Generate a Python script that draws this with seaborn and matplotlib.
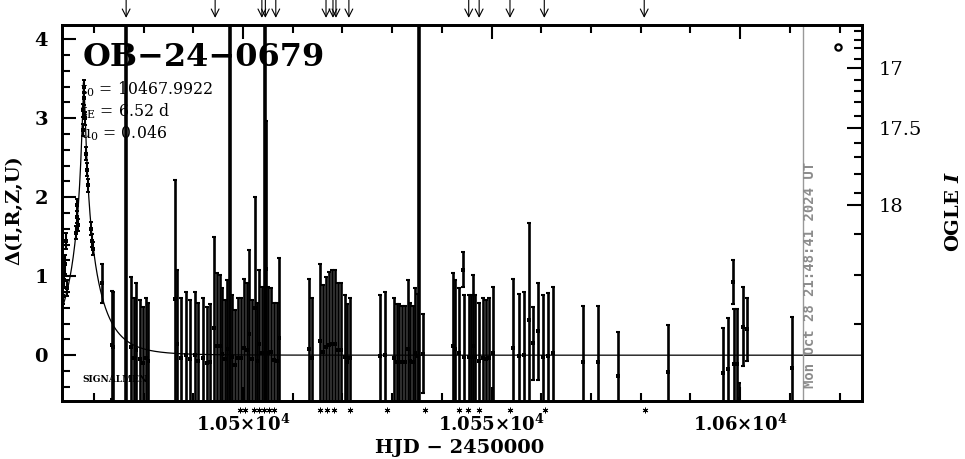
import numpy as np
import matplotlib
matplotlib.use("Agg")
import matplotlib.pyplot as plt
import seaborn as sns
from matplotlib.ticker import FixedLocator, MultipleLocator, NullFormatter, FixedFormatter

# ---------------- data ----------------
t0 = 10467.9922
tE = 6.52
u0 = 0.046

peak_hjd = [10463.9, 10464.1, 10464.3, 10464.5, 10464.7, 10466.4, 10466.6, 10466.7, 10466.9,
            10467.8, 10467.9, 10468.0, 10468.1, 10468.2, 10468.5, 10468.6, 10468.8,
            10469.5, 10469.6, 10469.8]
peak_delta = [0.75, 0.95, 1.15, 1.45, 0.85, 1.55, 1.75, 1.90, 1.65,
              2.85, 3.10, 3.40, 3.25, 3.00, 2.55, 2.35, 2.15,
              1.60, 1.45, 1.35]
peak_err = [0.10, 0.10, 0.12, 0.10, 0.10, 0.08, 0.08, 0.08, 0.08,
            0.08, 0.08, 0.08, 0.08, 0.08, 0.08, 0.08, 0.08,
            0.08, 0.08, 0.08]

bar_hjd = [10471.6, 10473.6, 10473.8, 10477.5, 10478.1, 10478.5, 10479.3, 10479.9, 10480.5, 10480.9,
           10486.3, 10486.7, 10487.5, 10488.5, 10489.3, 10490.3, 10490.9, 10492.0, 10492.8, 10493.4,
           10494.2, 10494.8, 10495.4, 10495.8, 10496.4, 10496.8, 10497.8, 10498.4, 10499.0, 10499.6,
           10500.2, 10500.8, 10501.2, 10501.8, 10502.4, 10502.8, 10503.2, 10503.8, 10504.6, 10505.0,
           10505.6, 10506.2, 10506.8, 10507.2,
           10513.3, 10513.9, 10515.5, 10516.1, 10516.7, 10517.3, 10517.9, 10518.5, 10519.1, 10519.7,
           10520.5, 10520.9, 10521.5,
           10527.6, 10528.6, 10530.4, 10531.0, 10531.4, 10532.0, 10532.6, 10533.2, 10533.6, 10534.2,
           10534.6, 10535.2, 10536.2,
           10542.3, 10542.7, 10543.5, 10544.3, 10544.5, 10545.5, 10545.9, 10546.3, 10546.7, 10547.5,
           10548.3, 10548.9, 10549.5, 10550.3,
           10554.3, 10555.5, 10556.5, 10557.5, 10558.4, 10559.4, 10560.4, 10561.4, 10562.4,
           10568.4, 10571.4, 10575.5, 10585.5,
           10596.6, 10597.6, 10598.6, 10598.8, 10599.4, 10599.8, 10600.6, 10601.4, 10610.5]
bar_delta = [0.91, 0.13, 0.10, 0.10, -0.04, 0.06, -0.05, -0.10, -0.04, -0.07,
             0.71, 0.14, -0.04, 0.00, -0.05, 0.00, -0.07, -0.04, -0.10, -0.08,
             0.35, 0.12, 0.11, 0.02, -0.05, 0.08, -0.02, -0.12, -0.04, -0.04,
             0.09, 0.06, 0.27, -0.05, 0.60, -0.07, 0.14, 0.03, 1.09, 0.03,
             0.04, -0.06, -0.07, 0.22,
             0.08, -0.04, 0.18, 0.04, 0.10, 0.13, 0.14, 0.14, 0.06, 0.06,
             -0.02, -0.08, -0.04,
             -0.01, 0.00, -0.04, -0.08, -0.08, -0.09, -0.09, 0.08, -0.07, -0.09,
             0.03, -0.01, 0.02,
             0.12, 0.08, 0.03, 1.08, -0.02, -0.02, -0.02, 0.11, -0.02, -0.07,
             -0.04, -0.05, -0.04, 0.03,
             0.09, -0.01, 0.00, 0.44, 0.15, 0.30, -0.02, -0.01, 0.03,
             -0.09, -0.09, -0.26, -0.21,
             -0.23, -0.17, 0.93, -0.11, -0.11, -0.55, 0.36, 0.33, -0.16]
bar_err = [0.25, 0.68, 0.70, 0.89, 0.76, 0.86, 0.75, 0.71, 0.77, 0.73,
           1.51, 0.94, 0.77, 0.80, 0.75, 0.80, 0.73, 0.77, 0.71, 0.73,
           1.14, 0.92, 0.90, 0.83, 0.75, 0.87, 0.78, 0.69, 0.76, 0.76,
           0.88, 0.86, 1.06, 0.75, 1.40, 0.73, 0.94, 0.83, 1.88, 0.83,
           0.81, 0.72, 0.73, 1.01,
           0.88, 0.76, 0.98, 0.85, 0.89, 0.92, 0.94, 0.94, 0.86, 0.86,
           0.78, 0.73, 0.76,
           0.77, 0.80, 0.76, 0.73, 0.73, 0.71, 0.71, 0.87, 0.73, 0.71,
           0.82, 0.79, 0.50,
           0.92, 0.87, 0.82, 0.22, 0.78, 0.78, 0.78, 0.90, 0.78, 0.73,
           0.76, 0.75, 0.77, 0.83,
           0.88, 0.79, 0.80, 1.23, 0.46, 0.62, 0.78, 0.80, 0.83,
           0.71, 0.71, 0.55, 0.59,
           0.58, 0.64, 0.28, 0.69, 0.69, 0.20, 0.50, 0.40, 0.64]

wide_hjd = [10476.5, 10497.4, 10504.4, 10535.4]
wide_delta = [1.5, 1.5, 1.5, 1.5]
wide_err = [4.0, 4.0, 4.0, 4.0]

alert_hjd = [10476.5, 10494.4, 10503.8, 10504.5, 10506.6, 10516.7, 10518.1, 10518.7,
             10521.3, 10545.4, 10547.5, 10553.7, 10560.6, 10580.7]
flag_hjd = [10499.4, 10500.4, 10502.2, 10503.2, 10504.2, 10505.2, 10506.2,
            10515.5, 10516.9, 10518.3, 10521.5, 10529.0, 10536.6,
            10543.5, 10545.3, 10547.5, 10553.7, 10560.8, 10580.9]
now_hjd = 10612.7

xtick_vals = [10500, 10550, 10600]
xtick_labels = [r"$\mathbf{1.05{\times}10^4}$", r"$\mathbf{1.055{\times}10^4}$", r"$\mathbf{1.06{\times}10^4}$"]
ytick_vals = [0, 1, 2, 3, 4]
ogle_labels = ["17", "17.5", "18"]
ogle_major_delta = [3.63, 2.87, 1.90]
ogle_minor_delta = [4.10, 3.99, 3.89, 3.75, 3.49, 3.35, 3.20, 3.03, 2.68, 2.51, 2.29, 2.05, 1.54, 1.01, 0.39]

# ---------------- style ----------------
sns.set_style("ticks")
plt.rcParams['font.family'] = ['DejaVu Serif']
plt.rcParams['mathtext.fontset'] = 'custom'
plt.rcParams['mathtext.rm'] = 'DejaVu Serif'
plt.rcParams['mathtext.bf'] = 'DejaVu Serif:bold'
plt.rcParams['mathtext.it'] = 'DejaVu Serif:italic:bold'
for k in ['text.color', 'axes.labelcolor', 'xtick.color', 'ytick.color', 'axes.edgecolor']:
    plt.rcParams[k] = 'black'

W, H = 965, 459
fig = plt.figure(figsize=(W / 100, H / 100), dpi=100)
ax = fig.add_axes([62 / W, 58 / H, 800 / W, 376 / H])
xmin, xmax = 10463.6, 10624.5
ymin, ymax = -0.58, 4.18

# model curve from the displayed parameters
tt = np.linspace(xmin, xmax, 2000)
uu = np.sqrt(u0 ** 2 + ((tt - t0) / tE) ** 2)
AA = (uu ** 2 + 2) / (uu * np.sqrt(uu ** 2 + 4))
sns.lineplot(x=tt, y=2.5 * np.log10(AA), ax=ax, color='black', lw=0.9)

ax.errorbar(wide_hjd, wide_delta, yerr=wide_err, fmt='none', ecolor='black', elinewidth=2.6)
ax.errorbar(bar_hjd, bar_delta, yerr=bar_err, fmt='none', ecolor='black',
            elinewidth=1.9, capsize=1.6, capthick=1.5)
ax.errorbar(peak_hjd, peak_delta, yerr=peak_err, fmt='none', ecolor='black',
            elinewidth=1.5, capsize=1.5, capthick=1.4)
sns.scatterplot(x=bar_hjd + peak_hjd, y=bar_delta + peak_delta, ax=ax, s=6, color='black',
                marker='s', linewidth=0, legend=False)

ax.axvline(now_hjd, color='#999999', lw=1.0)

ax.set_xlim(xmin, xmax)
ax.set_ylim(ymin, ymax)
ax.set_xlabel('')
ax.set_ylabel('')
for s in ax.spines.values():
    s.set_linewidth(2.0)
    s.set_visible(True)

ax.xaxis.set_major_locator(FixedLocator(xtick_vals))
ax.xaxis.set_major_formatter(FixedFormatter(xtick_labels))
ax.xaxis.set_minor_locator(MultipleLocator(10))
ax.yaxis.set_major_locator(FixedLocator(ytick_vals))
ax.yaxis.set_minor_locator(MultipleLocator(0.2))
ax.tick_params(axis='x', which='both', direction='in', top=True, bottom=True, width=1.5, pad=9, labelsize=13)
ax.tick_params(axis='x', which='major', length=10)
ax.tick_params(axis='x', which='minor', length=6)
ax.tick_params(axis='y', which='both', direction='in', left=True, right=False, width=1.5, pad=10, labelsize=14)
ax.tick_params(axis='y', which='major', length=10)
ax.tick_params(axis='y', which='minor', length=6)
for lbl in ax.get_yticklabels():
    lbl.set_fontweight('bold')

ax2 = ax.twinx()
ax2.set_ylim(ymin, ymax)
ax2.yaxis.set_major_locator(FixedLocator(ogle_major_delta))
ax2.yaxis.set_major_formatter(FixedFormatter(ogle_labels))
ax2.yaxis.set_minor_locator(FixedLocator(ogle_minor_delta))
ax2.yaxis.set_minor_formatter(NullFormatter())
ax2.tick_params(axis='y', which='both', direction='in', width=1.5, pad=12, labelsize=14)
ax2.tick_params(axis='y', which='major', length=11)
ax2.tick_params(axis='y', which='minor', length=6)
for s in ax2.spines.values():
    s.set_linewidth(2.0)

# alert arrows on top
xt = ax.get_xaxis_transform()
for h in alert_hjd:
    ax.annotate('', xy=(h, 1.019), xytext=(h, 1.068), xycoords=xt, textcoords=xt,
                arrowprops=dict(arrowstyle='->,head_length=0.55,head_width=0.28', color='black',
                                lw=0.8, shrinkA=0, shrinkB=0), annotation_clip=False)
# flag asterisks below the axis
ax.plot(flag_hjd, [-0.024] * len(flag_hjd), transform=xt, linestyle='none',
        marker=(6, 2, 0), ms=4, mew=0.7, color='black', clip_on=False)

ax.plot([0.97], [0.9415], transform=ax.transAxes, marker='o', ms=4.5, mfc='white', mec='black',
        mew=1.6, clip_on=False)

# texts
fig.text(83 / W, 1 - 58 / H, "OB\u221224\u22120679", fontsize=23, weight='bold', ha='left', va='center')
fig.text(80 / W, 1 - 89 / H, r"$\mathrm{t}_0$ = 10467.9922", fontsize=11.3, ha='left', va='center')
fig.text(80 / W, 1 - 111 / H, r"$\mathrm{t}_\mathrm{E}$ = 6.52 d", fontsize=11.3, ha='left', va='center')
fig.text(80 / W, 1 - 133 / H, r"$\mathrm{u}_0$ = 0.046", fontsize=11.3, ha='left', va='center')
fig.text(82 / W, 1 - 380 / H, "SIGNALMEN", fontsize=6.5, weight='bold', ha='left', va='center')
fig.text(460 / W, 1 - 448 / H, "HJD \u2212 2450000", fontsize=14, weight='bold', ha='center', va='center')
fig.text(14 / W, 1 - 210 / H, "\u0394(I,R,Z,U)", fontsize=14, weight='bold', rotation=90,
         ha='center', va='center')
fig.text(954 / W, 1 - 212 / H, r"OGLE $I$", fontsize=14, weight='bold', rotation=90,
         ha='center', va='center')
fig.text(810 / W, 1 - 275 / H, "Mon Oct 28 21:48:41 2024 UT", fontsize=10, weight='bold',
         family='DejaVu Sans Mono', color='#8c8c8c', rotation=90, ha='center', va='center')

fig.savefig("out.png", dpi=100)
